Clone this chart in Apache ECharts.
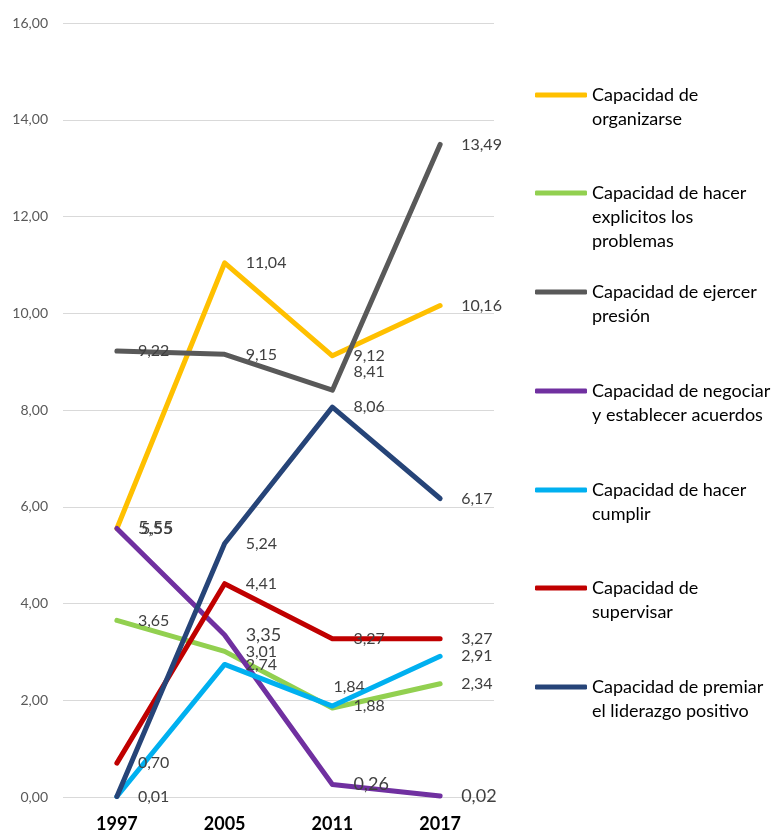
<!DOCTYPE html>
<html>
<head>
<meta charset="utf-8">
<script src="https://cdn.jsdelivr.net/npm/echarts@6/dist/echarts.min.js"></script>
<style>html,body{margin:0;padding:0;background:#fff}#c{width:778px;height:833px}</style>
</head>
<body>
<div id="c"></div>
<script>
const categories = ['1997', '2005', '2011', '2017'];
const yTicks = [0, 2, 4, 6, 8, 10, 12, 14, 16];

const seriesNames = [
  'Capacidad de organizarse',
  'Capacidad de hacer explicitos los problemas',
  'Capacidad de ejercer presión',
  'Capacidad de negociar y establecer acuerdos',
  'Capacidad de hacer cumplir',
  'Capacidad de supervisar',
  'Capacidad de premiar el liderazgo positivo'
];
const legendLines = [
  ['Capacidad de', 'organizarse'],
  ['Capacidad de hacer', 'explicitos los', 'problemas'],
  ['Capacidad de ejercer', 'presión'],
  ['Capacidad de negociar', 'y establecer acuerdos'],
  ['Capacidad de hacer', 'cumplir'],
  ['Capacidad de', 'supervisar'],
  ['Capacidad de premiar', 'el liderazgo positivo']
];
const colors = ['#FFC000', '#92D050', '#595959', '#7030A0', '#00B0F0', '#C00000', '#264478'];

const organizarse = [5.55, 11.04, 9.12, 10.16];
const explicitos  = [3.65, 3.01, 1.84, 2.34];
const presion     = [9.22, 9.15, 8.41, 13.49];
const negociar    = [5.55, 3.35, 0.26, 0.02];
const cumplir     = [0.01, 2.74, 1.88, 2.91];
const supervisar  = [0.70, 4.41, 3.27, 3.27];
const premiar     = [0.01, 5.24, 8.06, 6.17];
const allData = [organizarse, explicitos, presion, negociar, cumplir, supervisar, premiar];

// label tweaks per series/point (display only)
const labelOffsets = {
  '0-0': [3, 0],
  '2-2': [0, -18],
  '1-2': [-20, -21]
};
const legendFirstLineY = [95, 193, 292, 391, 490, 588, 687];

const fmt = v => v.toFixed(2).replace('.', ',');
const LH = 24;

const series = allData.map((arr, si) => ({
  name: seriesNames[si],
  type: 'line',
  data: arr.map((v, i) => {
    const off = labelOffsets[si + '-' + i];
    const d = { value: v };
    if (off) d.label = { offset: off };
    if (si === 4 && i === 0) d.label = { show: false };
    return d;
  }),
  symbol: 'circle',
  symbolSize: 0.1,
  showSymbol: true,
  color: colors[si],
  lineStyle: { width: 5, color: colors[si], cap: 'round', join: 'round' },
  itemStyle: { color: colors[si] },
  emphasis: { disabled: true },
  animation: false,
  z: 2 + si,
  label: {
    show: true,
    position: 'right',
    distance: 21,
    formatter: p => fmt(p.value),
    fontFamily: 'Lato',
    fontSize: si === 3 ? 18 : 16,
    color: '#404040'
  }
}));

const legends = seriesNames.map((n, i) => {
  const lines = legendLines[i];
  const nl = lines.length;
  const blank = new Array(nl - 1).fill(' ');
  return {
    show: true,
    data: [n],
    left: 535,
    top: legendFirstLineY[i] - LH / 2 - LH * (nl - 1),
    padding: 0,
    itemWidth: 52,
    itemHeight: 5,
    icon: 'roundRect',
    selectedMode: false,
    formatter: () => blank.concat(lines).join('\n'),
    textStyle: {
      fontFamily: 'Lato',
      fontSize: 18,
      lineHeight: LH,
      color: '#000000'
    }
  };
});

const chart = echarts.init(document.getElementById('c'), null, { renderer: 'canvas' });
chart.setOption({
  animation: false,
  backgroundColor: '#ffffff',
  grid: { left: 63, right: 284, top: 23, bottom: 36, containLabel: false },
  legend: legends,
  xAxis: {
    type: 'category',
    data: categories,
    boundaryGap: true,
    axisLine: { show: false },
    axisTick: { show: false },
    axisLabel: { fontFamily: 'Lato', fontWeight: 'bold', fontSize: 18, color: '#000000', margin: 18 }
  },
  yAxis: {
    type: 'value',
    min: yTicks[0],
    max: yTicks[yTicks.length - 1],
    interval: yTicks[1] - yTicks[0],
    axisLine: { show: false },
    axisTick: { show: false },
    splitLine: { lineStyle: { color: '#D9D9D9', width: 1 } },
    axisLabel: { fontFamily: 'Lato', fontSize: 14, color: '#595959', margin: 15, formatter: v => fmt(v) }
  },
  series: series
});
</script>
</body>
</html>
